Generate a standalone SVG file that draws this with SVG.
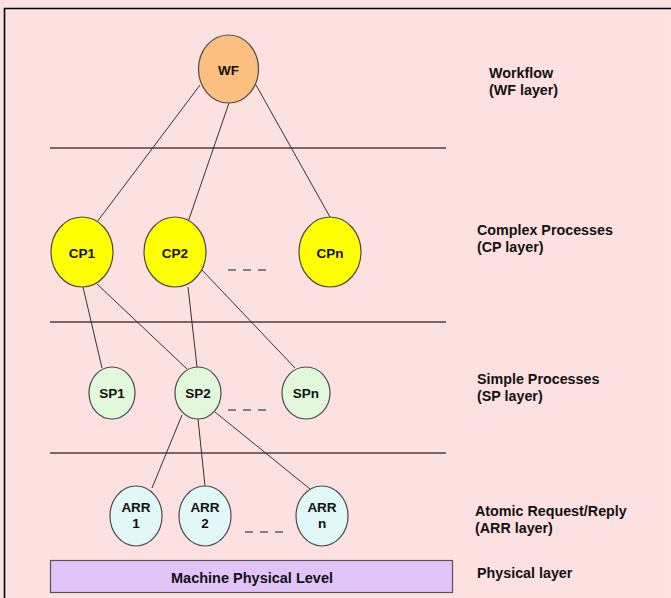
<svg xmlns="http://www.w3.org/2000/svg" width="671" height="598" viewBox="0 0 671 598">
<style>
.bg{fill:#fde0e0}
.node{stroke:#4a4a4a;stroke-width:1.2}
.wf{fill:#fbbf80}
.cp{fill:#ffff00}
.sp{fill:#e2f8dc}
.arr{fill:#e2f8f8}
.sep{stroke:#7a6868;stroke-width:2}
.dash{stroke:#808080;stroke-width:2;stroke-dasharray:8 7}
.conn line{stroke:#333;stroke-width:1}
text{font-family:"Liberation Sans",Arial,sans-serif;font-weight:bold;fill:#111}
.nl{font-size:13.5px;text-anchor:middle}
.ll{font-size:14.3px}
</style>
<rect class="bg" x="0" y="0" width="671" height="598"/>
<rect x="664" y="9" width="7" height="589" fill="#fde2de"/>
<path d="M4.5 598 V8.5 H671" fill="none" stroke="#000" stroke-width="1.6"/>

<g id="separators">
<line class="sep" x1="50" y1="148" x2="446" y2="148"/>
<line class="sep" x1="50" y1="322" x2="446" y2="322"/>
<line class="sep" x1="50" y1="453" x2="446" y2="453"/>
<line class="dash" x1="228" y1="270" x2="270" y2="270"/>
<line class="dash" x1="228" y1="410" x2="270" y2="410"/>
<line class="dash" x1="245" y1="532" x2="284" y2="532"/>
</g>

<g id="connectors" class="conn">
<line x1="200" y1="85" x2="97" y2="222"/>
<line x1="229" y1="103" x2="188" y2="222"/>
<line x1="256" y1="85" x2="330" y2="217"/>
<line x1="83" y1="287" x2="102" y2="368"/>
<line x1="97" y1="284" x2="187" y2="369"/>
<line x1="188" y1="287" x2="197" y2="367"/>
<line x1="202" y1="270" x2="295" y2="368"/>
<line x1="182" y1="415" x2="152" y2="488"/>
<line x1="198" y1="419" x2="205" y2="486"/>
<line x1="215" y1="412" x2="310" y2="489"/>
</g>

<g id="WF"><ellipse class="node wf" cx="228.5" cy="69" rx="30" ry="34"/><text class="nl" x="228.5" y="75">WF</text></g>
<g id="CP1"><ellipse class="node cp" cx="82" cy="252" rx="31" ry="35"/><text class="nl" x="82" y="258">CP1</text></g>
<g id="CP2"><ellipse class="node cp" cx="175" cy="252" rx="31" ry="35"/><text class="nl" x="175" y="258">CP2</text></g>
<g id="CPn"><ellipse class="node cp" cx="330" cy="252" rx="31" ry="35"/><text class="nl" x="330" y="258">CPn</text></g>
<g id="SP1"><ellipse class="node sp" cx="112" cy="393" rx="23" ry="26"/><text class="nl" x="112" y="398">SP1</text></g>
<g id="SP2"><ellipse class="node sp" cx="198" cy="393" rx="23" ry="26"/><text class="nl" x="198" y="398">SP2</text></g>
<g id="SPn"><ellipse class="node sp" cx="306" cy="393" rx="24" ry="26"/><text class="nl" x="306" y="398">SPn</text></g>
<g id="ARR1"><ellipse class="node arr" cx="136" cy="516" rx="26" ry="30"/><text class="nl" x="136" y="512">ARR</text><text class="nl" x="136" y="528">1</text></g>
<g id="ARR2"><ellipse class="node arr" cx="205" cy="516" rx="26" ry="30"/><text class="nl" x="205" y="512">ARR</text><text class="nl" x="205" y="528">2</text></g>
<g id="ARRn"><ellipse class="node arr" cx="322" cy="516" rx="26" ry="30"/><text class="nl" x="322" y="512">ARR</text><text class="nl" x="322" y="528">n</text></g>
<g id="physical"><rect x="50.5" y="560.5" width="402" height="32" fill="#e2c4f8" stroke="#555" stroke-width="1.2"/><text x="252" y="583" font-size="14.5" text-anchor="middle">Machine Physical Level</text></g>

<g id="layer-labels">
<text class="ll" x="489" y="78">Workflow</text>
<text class="ll" x="489" y="95">(WF layer)</text>
<text class="ll" x="477" y="235">Complex Processes</text>
<text class="ll" x="477" y="252">(CP layer)</text>
<text class="ll" x="477" y="384">Simple Processes</text>
<text class="ll" x="477" y="401">(SP layer)</text>
<text class="ll" x="475" y="516">Atomic Request/Reply</text>
<text class="ll" x="475" y="533">(ARR layer)</text>
<text class="ll" x="477" y="578">Physical layer</text>
</g>
</svg>
